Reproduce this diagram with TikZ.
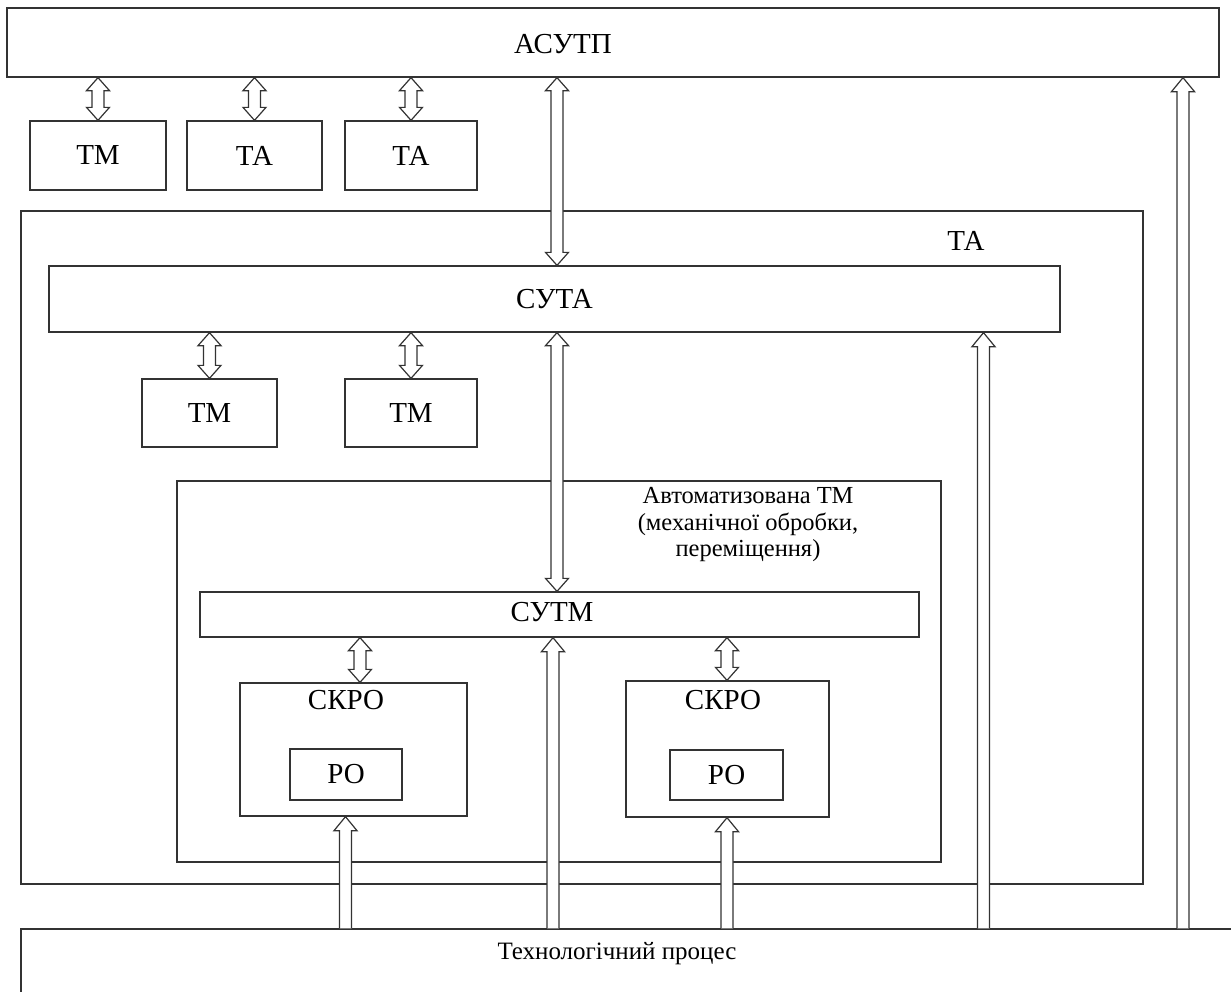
\documentclass[tikz,border=0pt]{standalone}
\usepackage{fontspec}
\setmainfont{Liberation Serif}
\usetikzlibrary{calc}
\tikzset{
	blok/.style={draw=black!80, line width=1.3pt, inner sep=0pt, font=\fontsize{29}{33}\selectfont},
	every label/.append style={font=\fontsize{29}{33}\selectfont},
	shyna/.style={draw=black!80, line width=1.2pt, fill=white, to path={let \p1=(\tikztostart), \p2=(\tikztotarget) in
		(\x1,\y1) -- (\x1+11.5pt,\y1-13pt) -- (\x1+6pt,\y1-13pt) -- (\x2+6pt,\y2+13pt) -- (\x2+11.5pt,\y2+13pt) -- (\x2,\y2)
		-- (\x2-11.5pt,\y2+13pt) -- (\x2-6pt,\y2+13pt) -- (\x1-6pt,\y1-13pt) -- (\x1-11.5pt,\y1-13pt) -- cycle}},
	vhid/.style={draw=black!80, line width=1.2pt, fill=white, to path={let \p1=(\tikztostart), \p2=(\tikztotarget) in
		(\x1+6pt,\y1) -- (\x2+6pt,\y2-14pt) -- (\x2+11.5pt,\y2-14pt) -- (\x2,\y2) -- (\x2-11.5pt,\y2-14pt) -- (\x2-6pt,\y2-14pt) -- (\x1-6pt,\y1)}}
}
\begin{document}
\begin{tikzpicture}[x=1pt, y=-1pt]
	\useasboundingbox (0,0) rectangle (1231,991);
	\node[blok, minimum width=1212pt, minimum height=69pt, label={[xshift=-50pt, yshift=-2pt]center:АСУТП}] (asutp) at (613,42.5) {};
	\node[blok, minimum width=136pt, minimum height=69pt] (tm1) at (98,155.5) {ТМ};
	\node[blok, minimum width=135pt, minimum height=69pt] (ta1) at (254.5,155.5) {ТА};
	\node[blok, minimum width=132pt, minimum height=69pt] (ta2) at (411,155.5) {ТА};
	\node[blok, minimum width=1122pt, minimum height=673pt] (ta) at (582,547.5) {};
	\node[font=\fontsize{29}{33}\selectfont] (tanazva) at (966,241) {ТА};
	\node[blok, minimum width=1011pt, minimum height=66pt] (suta) at (554.5,299) {СУТА};
	\node[blok, minimum width=135pt, minimum height=68pt] (tm3) at (209.5,413) {ТМ};
	\node[blok, minimum width=132pt, minimum height=68pt] (tm4) at (411,413) {ТМ};
	\node[blok, minimum width=764pt, minimum height=381pt, label={[xshift=189pt, yshift=146.5pt, align=center, font=\fontsize{24.5}{26.5}\selectfont]center:Автоматизована ТМ\\(механічної обробки,\\переміщення)}] (atm) at (559,671.5) {};
	\node[blok, minimum width=719pt, minimum height=45pt, label={[xshift=-7.5pt, yshift=2pt]center:СУТМ}] (sutm) at (559.5,614.5) {};
	\node[blok, minimum width=227pt, minimum height=133pt, label={[xshift=-7.5pt, yshift=49pt]center:СКРО}] (skro1) at (353.5,749.5) {};
	\node[blok, minimum width=112pt, minimum height=51pt] (ro1) at (346,774.5) {РО};
	\node[blok, minimum width=203pt, minimum height=136pt, label={[xshift=-4.5pt, yshift=48.5pt]center:СКРО}] (skro2) at (727.5,749) {};
	\node[blok, minimum width=113pt, minimum height=50pt] (ro2) at (726.5,775) {РО};
	\node[blok, minimum width=1224pt, minimum height=81pt, label={[xshift=-16pt, yshift=15.5pt, font=\fontsize{25}{28}\selectfont]center:Технологічний процес}] (proc) at (633,969.5) {};

	\coordinate (xm) at (557,0);
	\coordinate (b0) at (360,0);
	\coordinate (b1) at (345.5,0);
	\coordinate (b2) at (727,0);
	\coordinate (b3) at (553,0);
	\coordinate (b4) at (983.5,0);
	\coordinate (b5) at (1183,0);

	\draw[shyna] (asutp.south -| tm1) to (tm1.north);
	\draw[shyna] (asutp.south -| ta1) to (ta1.north);
	\draw[shyna] (asutp.south -| ta2) to (ta2.north);
	\draw[shyna] (asutp.south -| xm) to (suta.north -| xm);
	\draw[shyna] (suta.south -| tm3) to (tm3.north);
	\draw[shyna] (suta.south -| tm4) to (tm4.north);
	\draw[shyna] (suta.south -| xm) to (sutm.north -| xm);
	\draw[shyna] (sutm.south -| b0) to (skro1.north -| b0);
	\draw[shyna] (sutm.south -| b2) to (skro2.north -| b2);

	\draw[vhid] (proc.north -| b1) to (skro1.south -| b1);
	\draw[vhid] (proc.north -| b2) to (skro2.south -| b2);
	\draw[vhid] (proc.north -| b3) to (sutm.south -| b3);
	\draw[vhid] (proc.north -| b4) to (suta.south -| b4);
	\draw[vhid] (proc.north -| b5) to (asutp.south -| b5);
\end{tikzpicture}
\end{document}
